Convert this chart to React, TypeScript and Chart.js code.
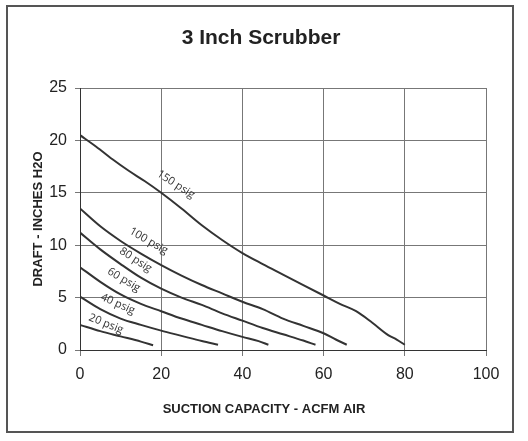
import React, { useEffect, useRef } from "react";
import { Chart, registerables } from "chart.js";
Chart.register(...registerables);

const chartTitle = "3 Inch Scrubber";
const xTitle = "SUCTION CAPACITY - ACFM AIR";
const yTitle = "DRAFT - INCHES H2O";

const seriesNames = ["20 psig", "40 psig", "60 psig", "80 psig", "100 psig", "150 psig"];

const flow20 = [0, 5, 10, 15, 18];
const draft20 = [2.4, 1.8, 1.3, 0.8, 0.45];

const flow40 = [0, 5, 10, 15, 20, 25, 30, 34];
const draft40 = [5.1, 3.9, 3.0, 2.4, 1.85, 1.35, 0.85, 0.5];

const flow60 = [0, 5, 10, 15, 20, 25, 30, 35, 40, 44, 46.4];
const draft60 = [7.9, 6.5, 5.3, 4.4, 3.7, 3.0, 2.4, 1.8, 1.25, 0.85, 0.5];

const flow80 = [0, 5, 10, 15, 20, 25, 30, 35, 40, 45, 50, 55, 58];
const draft80 = [11.2, 9.6, 8.2, 6.9, 5.85, 5.0, 4.3, 3.5, 2.8, 2.1, 1.5, 0.9, 0.5];

const flow100 = [0, 5, 10, 15, 20, 25, 30, 35, 40, 45, 50, 55, 60, 63, 65.7];
const draft100 = [13.5, 11.8, 10.4, 9.2, 8.1, 7.1, 6.2, 5.4, 4.6, 3.9, 3.0, 2.3, 1.6, 1.0, 0.5];

const flow150 = [0, 4, 8, 12, 16, 20, 25, 30, 35, 40, 45, 50, 55, 60, 64, 68, 72, 76, 78, 80];
const draft150 = [20.5, 19.4, 18.2, 17.1, 16.1, 15.0, 13.5, 11.9, 10.5, 9.25, 8.2, 7.2, 6.2, 5.2, 4.4, 3.7, 2.6, 1.4, 1.0, 0.5];

const allFlows = [flow20, flow40, flow60, flow80, flow100, flow150];
const allDrafts = [draft20, draft40, draft60, draft80, draft100, draft150];

// label anchor positions (data units) and rotation (deg)
const labelFlow = [6.4, 9.3, 10.8, 13.7, 16.9, 23.6];
const labelDraft = [2.5, 4.4, 6.7, 8.6, 10.4, 15.8];
const labelAngle = [22, 24, 31, 33, 30, 33];

const xTicks = [0, 20, 40, 60, 80, 100];
const yTicks = [0, 5, 10, 15, 20, 25];

const textPlugin = {
  id: "textPlugin",
  beforeDraw(chart: any) {
    const ctx = chart.ctx;
    ctx.save();
    ctx.fillStyle = "#ffffff";
    ctx.fillRect(0, 0, chart.width, chart.height);
    ctx.strokeStyle = "#555555";
    ctx.lineWidth = 2;
    ctx.strokeRect(7, 6, 506, 426);
    ctx.restore();
  },
  afterDraw(chart: any) {
    const ctx = chart.ctx;
    const xs = chart.scales.x;
    const ys = chart.scales.y;
    ctx.save();
    ctx.fillStyle = "#222222";
    ctx.textAlign = "center";
    ctx.textBaseline = "middle";
    ctx.font = "bold 21px 'Liberation Sans', Arial, sans-serif";
    ctx.fillText(chartTitle, 261, 38);
    ctx.font = "bold 13px 'Liberation Sans', Arial, sans-serif";
    ctx.fillText(xTitle, 264, 409);
    ctx.save();
    ctx.translate(38, (chart.chartArea.top + chart.chartArea.bottom) / 2);
    ctx.rotate(-Math.PI / 2);
    ctx.fillText(yTitle, 0, 0);
    ctx.restore();
    ctx.font = "11px 'Open Sans', sans-serif";
    ctx.fillStyle = "#333333";
    for (let i = 0; i < seriesNames.length; i++) {
      const px = xs.getPixelForValue(labelFlow[i]);
      const py = ys.getPixelForValue(labelDraft[i]);
      ctx.save();
      ctx.translate(px, py);
      ctx.rotate((labelAngle[i] * Math.PI) / 180);
      ctx.fillText(seriesNames[i], 0, 0);
      ctx.restore();
    }
    ctx.restore();
  },
};

export default function App() {
  const ref = useRef<HTMLCanvasElement>(null);
  useEffect(() => {
    if (!ref.current) return;
    const datasets = seriesNames.map((name, i) => ({
      label: name,
      data: allFlows[i].map((f, j) => ({ x: f, y: allDrafts[i][j] })),
      borderColor: "#333333",
      borderWidth: 2,
      pointRadius: 0,
      fill: false,
      cubicInterpolationMode: "monotone" as const,
    }));
    const chart = new Chart(ref.current, {
      type: "line",
      data: { datasets },
      plugins: [textPlugin],
      options: {
        animation: false,
        responsive: false,
        maintainAspectRatio: false,
        layout: { padding: { left: 0, right: 42, top: 88, bottom: 0 } },
        plugins: { legend: { display: false }, tooltip: { enabled: false }, title: { display: false } },
        scales: {
          x: {
            type: "linear",
            min: 0,
            max: 100,
            afterFit: (s: any) => {
              s.height = 91;
            },
            afterBuildTicks: (s: any) => {
              s.ticks = xTicks.map((v) => ({ value: v }));
            },
            ticks: {
              color: "#222222",
              font: { family: "'Liberation Sans', Arial, sans-serif", size: 16 },
              padding: 9,
              maxRotation: 0,
            },
            grid: { color: "#777777", lineWidth: 1, tickLength: 6, drawTicks: true },
            border: { color: "#333333", width: 1 },
          },
          y: {
            type: "linear",
            min: 0,
            max: 25,
            afterFit: (s: any) => {
              s.width = 80;
            },
            afterBuildTicks: (s: any) => {
              s.ticks = yTicks.map((v) => ({ value: v }));
            },
            ticks: {
              color: "#222222",
              font: { family: "'Liberation Sans', Arial, sans-serif", size: 16 },
              padding: 8,
            },
            grid: { color: "#777777", lineWidth: 1, tickLength: 5, drawTicks: true },
            border: { color: "#333333", width: 1 },
          },
        },
      },
    });
    return () => chart.destroy();
  }, []);
  return (
    <div style={{ position: "absolute", left: 0, top: 0, width: 528, height: 441 }}>
      <canvas ref={ref} width={528} height={441} style={{ width: 528, height: 441 }} />
    </div>
  );
}
